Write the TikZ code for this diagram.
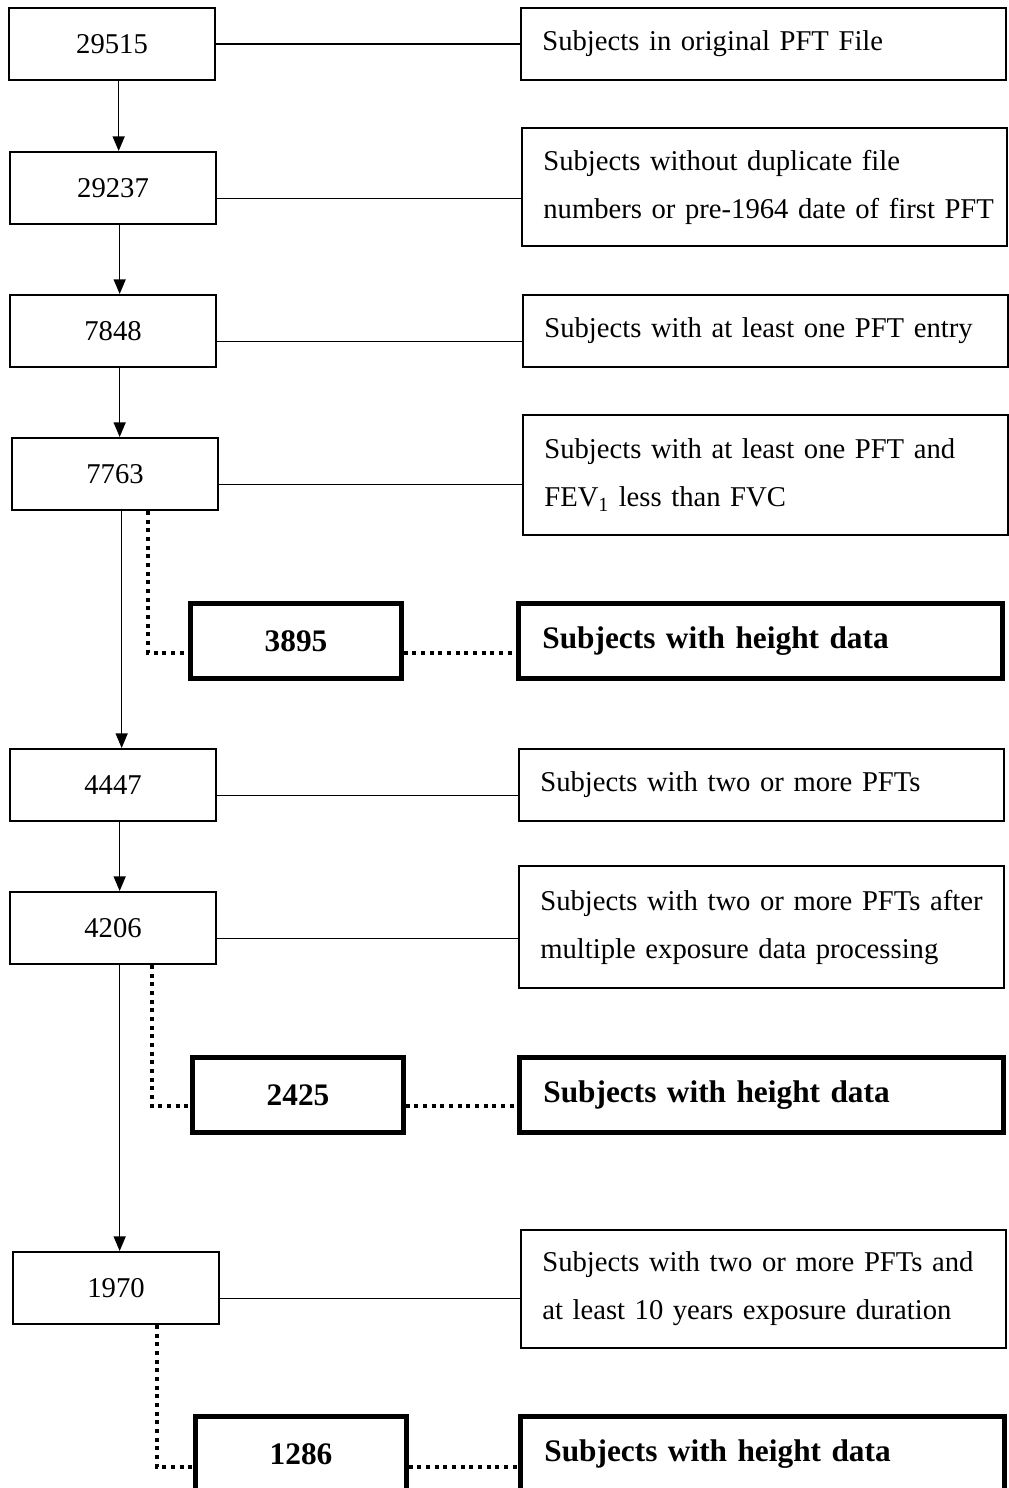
\documentclass[tikz,border=0pt]{standalone}
\usepackage{fontspec}
\setmainfont{Liberation Serif}
\usetikzlibrary{arrows.meta}

\begin{document}
\begin{tikzpicture}[x=0.75pt, y=-0.75pt, >={Triangle[length=11pt,width=9pt]},
    count/.style={draw, line width=1.5pt, minimum width=155pt, minimum height=54pt, inner sep=0pt,
      font=\fontsize{21.5pt}{36pt}\selectfont},
    hcount/.style={count, line width=3.5pt, minimum width=158pt, minimum height=56pt,
      font=\fontsize{23.5pt}{36pt}\selectfont\bfseries},
    note/.style={draw, line width=1.5pt, anchor=west, text width=332pt, inner xsep=16pt, inner ysep=0pt,
      align=left, minimum height=54pt, font=\fontsize{21.5pt}{36pt}\selectfont},
    hnote/.style={note, line width=3.5pt, text width=327pt, inner xsep=18pt, minimum height=56pt,
      font=\fontsize{23.5pt}{36pt}\selectfont\bfseries},
    link/.style={line width=1.1pt},
    dots/.style={line width=3.2pt, dash pattern=on 3pt off 3.5pt}]
  \useasboundingbox (0,0) rectangle (1008,1488);
  % counts on the left
  \node[count] (n1) at (112,44) {29515};
  \node[count] (n2) at (113,188) {29237};
  \node[count] (n3) at (113,331) {7848};
  \node[count] (n4) at (115,474) {7763};
  \node[hcount] (h1) at (296,641) {3895};
  \node[count] (n5) at (113,785) {4447};
  \node[count] (n6) at (113,928) {4206};
  \node[hcount] (h2) at (298,1095) {2425};
  \node[count] (n7) at (116,1288) {1970};
  \node[hcount] (h3) at (301,1454) {1286};
  % descriptions on the right
  \node[note] (t1) at (520,44) {Subjects in original PFT File};
  \node[note, minimum height=89pt] (t2) at (521,187)
    {\mbox{Subjects without duplicate file}\\\mbox{numbers or pre-1964 date of first PFT}};
  \node[note] (t3) at (522,331) {Subjects with at least one PFT entry};
  \node[note, minimum height=90pt] (t4) at (522,475)
    {\mbox{Subjects with at least one PFT and}\\FEV\textsubscript{1} less than FVC};
  \node[hnote] (r1) at (516,641) {Subjects with height data};
  \node[note] (t5) at (518,785) {Subjects with two or more PFTs};
  \node[note, minimum height=91pt] (t6) at (518,927)
    {\mbox{Subjects with two or more PFTs after}\\\mbox{multiple exposure data processing}};
  \node[hnote] (r2) at (517,1095) {Subjects with height data};
  \node[note, minimum height=88.5pt] (t7) at (520,1289)
    {\mbox{Subjects with two or more PFTs and}\\\mbox{at least 10 years exposure duration}};
  \node[hnote] (r3) at (518,1454) {Subjects with height data};
  % links
  \draw[link] (n1.east) -- (t1.west);
  \foreach \a/\b in {n2/t2, n3/t3, n4/t4, n5/t5, n6/t6, n7/t7}
    \draw[link] ([yshift=-8pt]\a.east) -- ([yshift=-8pt]\a.east -| \b.west);
  \foreach \a/\b in {n1/n2, n2/n3, n3/n4, n4/n5, n5/n6, n6/n7}
    \draw[link, ->] ([xshift=5pt]\a.south) -- ([xshift=5pt]\a.south |- \b.north);
  % height subsets
  \draw[dots] ([xshift=25pt]n4.south) |- ([yshift=-9pt]h1.west);
  \draw[dots] ([yshift=-9pt]h1.east) -- ([yshift=-9pt]h1.east -| r1.west);
  \draw[dots] ([xshift=29pt]n6.south) |- ([yshift=-8pt]h2.west);
  \draw[dots] ([yshift=-8pt]h2.east) -- ([yshift=-8pt]h2.east -| r2.west);
  \draw[dots] ([xshift=31pt]n7.south) |- ([yshift=-10pt]h3.west);
  \draw[dots] ([yshift=-10pt]h3.east) -- ([yshift=-10pt]h3.east -| r3.west);
\end{tikzpicture}
\end{document}
